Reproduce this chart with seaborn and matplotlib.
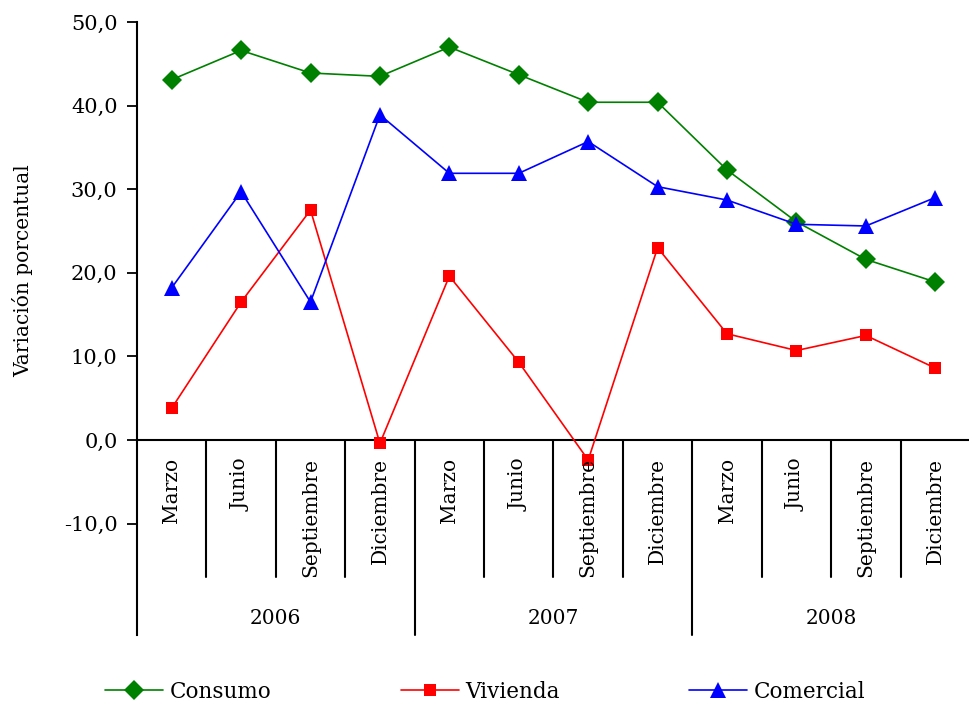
import seaborn as sns
import matplotlib.pyplot as plt
import matplotlib.ticker as ticker
import pandas as pd

meses = ['Marzo', 'Junio', 'Septiembre', 'Diciembre'] * 3
anios = ['2006', '2007', '2008']
consumo = [43.1, 46.6, 43.9, 43.5, 47.0, 43.7, 40.4, 40.4, 32.3, 26.1, 21.6, 18.9]
vivienda = [3.8, 16.5, 27.5, -0.4, 19.6, 9.3, -2.4, 23.0, 12.7, 10.7, 12.5, 8.6]
comercial = [18.2, 29.7, 16.5, 38.9, 31.9, 31.9, 35.7, 30.3, 28.7, 25.8, 25.6, 29.0]
series = ['Consumo', 'Vivienda', 'Comercial']

df = pd.DataFrame({
    'pos': list(range(12)) * 3,
    'valor': consumo + vivienda + comercial,
    'serie': [s for s in series for _ in range(12)],
})

sns.set_style('white')
plt.rcParams['font.family'] = ['DejaVu Serif']
plt.rcParams['text.color'] = 'black'
plt.rcParams['ytick.color'] = 'black'
plt.rcParams['axes.labelcolor'] = 'black'

fig = plt.figure(figsize=(9.7, 7.01), dpi=100)
ax = fig.add_axes([0.1412, 0.0942, 0.8588, 0.8744])

sns.lineplot(data=df, x='pos', y='valor', hue='serie', style='serie', ax=ax,
             palette={'Consumo': '#008000', 'Vivienda': '#ff0000', 'Comercial': '#0000ff'},
             markers={'Consumo': 'D', 'Vivienda': 's', 'Comercial': '^'},
             dashes=False, markersize=10, linewidth=1.2, markeredgewidth=0, legend=True)

# tamanos de marcador por serie
for ln in ax.lines:
    if ln.get_marker() == '^':
        ln.set_markersize(12)
    elif ln.get_marker() == 's':
        ln.set_markersize(8.5)

ymin = -23.33
ax.set_xlim(-0.5, 11.5)
ax.set_ylim(ymin, 50)
ax.set_yticks([-10, 0, 10, 20, 30, 40, 50])
ax.yaxis.set_major_formatter(ticker.FuncFormatter(lambda v, p: f'{v:.1f}'.replace('.', ',')))
ax.tick_params(axis='y', direction='out', length=7, width=1.3, labelsize=15, left=True, pad=7)
ax.set_xticks([])
ax.set_xlabel('')
ax.set_ylabel('Variación porcentual', fontsize=14.5)
ax.yaxis.set_label_coords(-0.125, 0.595)

for s in ['top', 'right', 'bottom']:
    ax.spines[s].set_visible(False)
ax.spines['left'].set_linewidth(1.5)
ax.spines['left'].set_color('black')
ax.axhline(0, color='black', linewidth=1.5, zorder=1)

# etiquetas de categoria en dos niveles
for i, m in enumerate(meses):
    ax.text(i, -2.2, m, rotation=90, ha='center', va='top', fontsize=14.5)
for k in range(1, 12):
    low = ymin if k % 4 == 0 else -16.4
    ax.plot([k - 0.5, k - 0.5], [0, low], color='black', linewidth=1.5, clip_on=False)
for j, a in enumerate(anios):
    ax.text(4 * j + 1.5, -21.4, a, ha='center', va='center', fontsize=14.5)

handles, labels = ax.get_legend_handles_labels()
for h in handles:
    if h.get_marker() == '^':
        h.set_markersize(12)
ax.legend_.remove()
fig.legend(handles, labels, loc='lower center', bbox_to_anchor=(0.5, -0.03), ncol=3,
           frameon=False, fontsize=15.5, handlelength=2.7, handletextpad=0.3,
           columnspacing=6.0)

plt.savefig('out.png', dpi=100)
